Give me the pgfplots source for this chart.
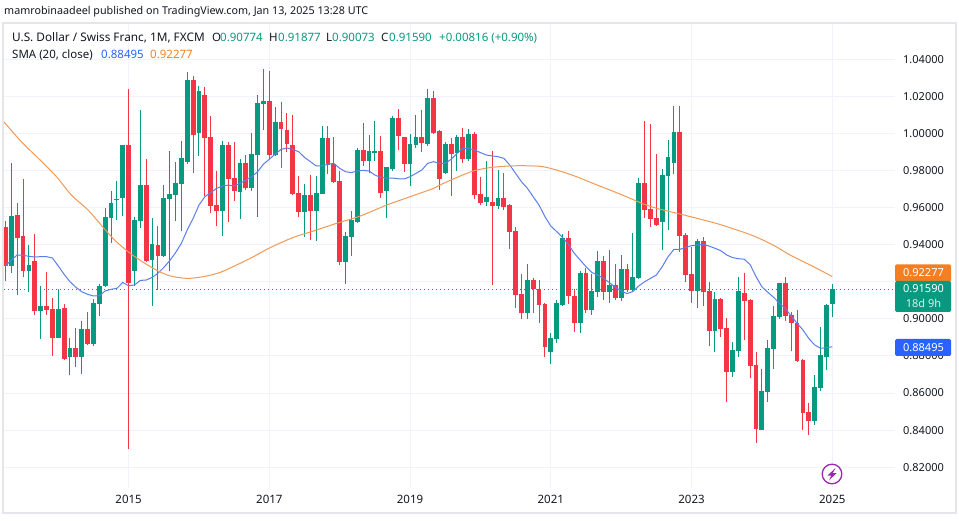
\documentclass[border=0pt]{standalone}
\usepackage{fontspec}
\setmainfont{Noto Sans}
\usepackage{pgfplots}
\usepackage{pgfplotstable}
\pgfplotsset{compat=1.18}
\definecolor{ggreen}{HTML}{089981}
\definecolor{rred}{HTML}{F23645}
\definecolor{bblue}{HTML}{2962FF}
\definecolor{oorange}{HTML}{F57F20}
\definecolor{smab}{HTML}{5B7FE8}
\definecolor{smao}{HTML}{F09A58}
\definecolor{ink}{HTML}{131722}
\definecolor{gridc}{HTML}{F0F3FA}
\definecolor{panel}{HTML}{E4E6EB}
\definecolor{bolt}{HTML}{9C27B0}
\pgfplotstableread{
i o h l c
-20 .9286 .9838 .9249 .9554
-17 .9259 .9398 .9146 .9290
-15 .9044 .9177 .8893 .9069
-12 .8898 .9159 .8896 .9053
-10 .8796 .8896 .8697 .8843
-8 .8796 .8988 .8702 .8945
-6 .8864 .9107 .8853 .9085
-5 .9080 .9186 .9015 .9177
-4 .9177 .9595 .9173 .9549
-3 .9543 .9689 .9410 .9622
-2 .9642 .9743 .9532 .9646
-1 .9653 .9937 .9554 .9937
1 .9259 .9547 .9178 .9532
2 .9527 1.0125 .9491 .9721
4 .9317 .9541 .9069 .9403
6 .9338 .9721 .9331 .9651
7 .9648 .9904 .9259 .9673
8 .9667 .9845 .9527 .9732
9 .9727 .9958 .9473 .9867
10 .9845 1.0329 .9834 1.0287
12 1.0003 1.0255 .9877 1.0228
16 .9583 .9958 .9446 .9937
19 .9685 .9861 .9540 .9840
21 .9705 1.0001 .9691 .9888
22 .9883 1.0206 .9550 1.0163
23 1.0160 1.0346 1.0018 1.0174
25 .9883 1.0142 .9877 1.0061
30 .9576 .9727 .9443 .9667
32 .9581 .9770 .9419 .9678
33 .9673 1.0039 .9671 .9975
37 .9306 .9468 .9187 .9446
38 .9443 .9581 .9338 .9532
39 .9522 .9921 .9518 .9910
41 .9851 .9991 .9788 .9904
42 .9899 1.0066 .9851 .9904
44 .9689 .9818 .9543 .9818
45 .9807 1.0093 .9797 1.0082
48 .9834 .9996 .9716 .9942
49 .9937 1.0099 .9921 .9980
51 .9942 1.0239 .9931 1.0190
54 .9786 .9953 .9780 .9942
56 .9894 .9991 .9797 .9980
58 .9862 1.0023 .9851 .9996
61 .9630 .9851 .9608 .9656
63 .9608 .9802 .9592 .9651
68 .9031 .9295 .8999 .9209
72 .8821 .8923 .8756 .8897
73 .8891 .9101 .8870 .9085
74 .9075 .9457 .9069 .9436
77 .8977 .9258 .8923 .9247
79 .9048 .9242 .9021 .9150
80 .9145 .9365 .9117 .9312
82 .9145 .9371 .9085 .9182
84 .9112 .9344 .9096 .9268
86 .9155 .9463 .9150 .9225
87 .9220 .9759 .9215 .9732
91 .9522 .9808 .9371 .9775
92 .9770 .9964 .9479 .9872
93 .9840 1.0147 .9781 1.0007
97 .9150 .9430 .9058 .9419
100 .8934 .9145 .8821 .9107
103 .8713 .8875 .8686 .8832
104 .8826 .9225 .8794 .9150
108 .8400 .8729 .8400 .8611
109 .8605 .8886 .8551 .8842
110 .8837 .9069 .8729 .9015
111 .9010 .9193 .8999 .9193
117 .8449 .8697 .8427 .8632
118 .8627 .8956 .8611 .8805
119 .8794 .9080 .8724 .9075
120 .90774 .91877 .90073 .91590
}\upcandles
\pgfplotstableread{
i o h l c
-21 .9497 .9527 .9205 .9285
-19 .9559 .9622 .9128 .9437
-18 .9446 .9752 .9227 .9259
-16 .9311 .9457 .9020 .9044
-14 .9069 .9252 .9020 .9047
-13 .9053 .9110 .8801 .8898
-11 .9058 .9080 .8779 .8783
-9 .8843 .8950 .8742 .8796
-7 .8945 .9037 .8859 .8864
0 .9937 1.0237 .8298 .9195
3 .9721 .9861 .9308 .9313
5 .9398 .9500 .9155 .9340
11 1.0287 1.0309 .9784 .9993
13 1.0206 1.0248 .9662 .9975
14 .9980 1.0093 .9572 .9608
15 .9613 .9797 .9500 .9581
17 .9937 .9953 .9522 .9754
18 .9759 .9953 .9637 .9691
20 .9840 .9883 .9694 .9705
24 1.0174 1.0336 .9861 .9883
26 1.0061 1.0169 .9813 1.0023
27 1.0018 1.0109 .9899 .9942
28 .9937 1.0099 .9669 .9673
29 .9678 .9770 .9550 .9576
31 .9667 .9775 .9425 .9581
34 .9975 1.0039 .9780 .9829
35 .9834 .9980 .9734 .9737
36 .9743 .9797 .9290 .9306
40 .9910 1.0055 .9824 .9851
43 .9904 .9985 .9651 .9678
46 1.0082 1.0131 .9910 .9985
47 .9980 .9980 .9791 .9834
50 .9980 1.0125 .9899 .9948
52 1.0190 1.0228 .9999 1.0001
53 1.0012 1.0018 .9694 .9754
55 .9942 .9975 .9662 .9888
57 .9980 1.0029 .9840 .9862
59 .9996 1.0007 .9646 .9667
60 .9673 .9764 .9613 .9624
62 .9630 .9905 .9182 .9608
64 .9651 .9786 .9587 .9603
65 .9613 .9620 .9376 .9468
66 .9473 .9495 .9058 .9128
67 .9134 .9242 .8999 .9031
69 .9209 .9220 .9031 .9159
70 .9159 .9209 .8977 .9075
71 .9080 .9085 .8794 .8848
75 .9436 .9473 .9080 .9123
76 .9123 .9161 .8929 .8977
78 .9247 .9274 .9031 .9048
81 .9312 .9339 .9101 .9145
83 .9182 .9295 .9101 .9112
85 .9268 .9295 .9145 .9155
88 .9732 1.0066 .9544 .9587
89 .9592 1.0050 .9495 .9538
90 .9544 .9888 .9500 .9506
94 1.0007 1.0147 .9360 .9446
95 .9452 .9463 .9198 .9236
96 .9242 .9389 .9085 .9150
98 .9419 .9441 .9069 .9145
99 .9150 .9198 .8853 .8934
101 .9107 .9112 .8902 .8945
102 .8950 .9004 .8551 .8713
105 .9139 .9247 .8886 .9096
106 .9101 .9107 .8681 .8746
107 .8751 .8821 .8330 .8406
112 .9193 .9225 .8988 .9015
113 .9021 .9037 .8826 .8977
114 .8977 .9048 .8767 .8773
115 .8778 .8783 .8400 .8492
116 .8497 .8546 .8373 .8449
}\downcandles
\pgfplotsset{
 wick/.style={draw=none,mark=none,forget plot,
  error bars/.cd,y dir=both,y explicit,error mark=none,
  error bar style={solid,draw=#1,line width=1pt}},
 body/.style={draw=none,mark=none,forget plot,
  error bars/.cd,y dir=both,y explicit,error mark=none,
  error bar style={solid,draw=#1,line width=4.8pt}},
}
\begin{document}
\fontsize{11.5}{14}\selectfont
\begin{tikzpicture}
\useasboundingbox (0pt,0pt) rectangle (959pt,520pt);
\fill[white] (0pt,0pt) rectangle (959pt,520pt);
\begin{axis}[
 at={(4pt,32pt)},anchor=south west,
 scale only axis,width=891pt,height=465pt,
 xmin=-21.25,xmax=130.7,ymin=0.80879,ymax=1.05946,
 axis line style={draw=none},
 major tick length=0pt,
 xtick={0,24,48,72,96,120},
 xticklabels={2015,2017,2019,2021,2023,2025},
 ytick={0.82,0.84,0.86,0.88,0.90,0.92,0.94,0.96,0.98,1.00,1.02,1.04},
 yticklabels={0.82000,0.84000,0.86000,0.88000,0.90000,{},0.94000,0.96000,0.98000,1.00000,1.02000,1.04000},
 yticklabel pos=right,
 xmajorgrids,ymajorgrids,
 grid style={draw=gridc,line width=1pt},
 xticklabel style={font=\fontsize{11.5}{14}\selectfont,text=ink,yshift=-3pt},
 yticklabel style={font=\fontsize{11}{14}\selectfont,text=ink,anchor=west,inner xsep=0pt,xshift=8pt},
]
\addplot[draw=ggreen,dash pattern=on 1pt off 3pt,line width=1pt,forget plot] coordinates {(-21.25,0.9159) (130.7,0.9159)};
\addplot+[wick=ggreen] table[x=i,y expr=(\thisrow{h}+\thisrow{l})/2,y error expr=(\thisrow{h}-\thisrow{l})/2] {\upcandles};
\addplot+[wick=rred] table[x=i,y expr=(\thisrow{h}+\thisrow{l})/2,y error expr=(\thisrow{h}-\thisrow{l})/2] {\downcandles};
\addplot+[body=ggreen] table[x=i,y expr=(\thisrow{c}+\thisrow{o})/2,y error expr=(\thisrow{c}-\thisrow{o})/2] {\upcandles};
\addplot+[body=rred] table[x=i,y expr=(\thisrow{o}+\thisrow{c})/2,y error expr=(\thisrow{o}-\thisrow{c})/2] {\downcandles};
% SMA 20
\addplot[smab,line width=1pt,mark=none] coordinates {
(-21,.9285)(-20,.9317)(-19,.9344)(-18,.9342)(-17,.9337)(-16,.9333)(-15,.9335)(-14,.9335)(-13,.9328)(-12,.9285)
(-11,.9240)(-10,.9200)(-9,.9170)(-8,.9146)(-7,.9132)(-6,.9123)(-5,.9123)(-4,.9150)(-3,.9159)(-2,.9164)
(-1,.9196)(0,.9178)(1,.9182)(2,.9207)(3,.9209)(4,.9223)(5,.9245)(6,.9277)(7,.9313)(8,.9356)
(9,.9407)(10,.9479)(11,.9541)(12,.9613)(13,.9658)(14,.9680)(15,.9703)(16,.9716)(17,.9721)(18,.9716)
(19,.9730)(20,.9748)(21,.9766)(22,.9793)(23,.9834)(24,.9860)(25,.9888)(26,.9913)(27,.9921)(28,.9913)
(29,.9901)(30,.9870)(31,.9847)(32,.9824)(33,.9824)(34,.9833)(35,.9838)(36,.9811)(37,.9793)(38,.9788)
(39,.9797)(40,.9800)(41,.9797)(42,.9775)(43,.9762)(44,.9759)(45,.9759)(46,.9755)(47,.9754)(48,.9766)
(49,.9784)(50,.9802)(51,.9838)(52,.9847)(53,.9838)(54,.9838)(55,.9860)(56,.9892)(57,.9919)(58,.9919)
(59,.9910)(60,.9896)(61,.9883)(62,.9878)(63,.9874)(64,.9865)(65,.9829)(66,.9784)(67,.9739)(68,.9704)
(69,.9658)(70,.9613)(71,.9551)(72,.9500)(73,.9470)(74,.9439)(75,.9401)(76,.9353)(77,.9317)(78,.9281)
(79,.9250)(80,.9236)(81,.9218)(82,.9195)(83,.9170)(84,.9150)(85,.9136)(86,.9147)(87,.9177)(88,.9200)
(89,.9218)(90,.9236)(91,.9281)(92,.9335)(93,.9374)(94,.9374)(95,.9385)(96,.9394)(97,.9398)(98,.9401)
(99,.9392)(100,.9380)(101,.9367)(102,.9344)(103,.9330)(104,.9324)(105,.9321)(106,.9292)(107,.9227)(108,.9173)
(109,.9143)(110,.9116)(111,.9083)(112,.9056)(113,.9015)(114,.8976)(115,.8940)(116,.8894)(117,.8859)(118,.8841)
(119,.8844)(120,.88495)};
% long SMA
\addplot[smao,line width=1pt,mark=none,smooth,tension=0.5] coordinates {
(-21.3,1.0063)(-18.3,.9955)(-15.1,.9856)(-12.3,.9766)(-9.75,.9667)(-6.9,.9586)(-4.6,.9502)(-2.4,.9425)
(-0.1,.9362)(1.9,.9317)(4.7,.9263)(7,.9232)(9.9,.9218)(12.7,.9227)(15.6,.9250)(18.4,.9290)(21.3,.9335)
(24.1,.9383)(28.1,.9439)(31.5,.9473)(35.5,.9515)(39.5,.9554)(44,.9613)(48,.9658)(52,.9703)(53.1,.9721)
(55.9,.9761)(58.8,.9797)(61.6,.9815)(65,.9824)(67.9,.9825)(70.7,.9820)(73.5,.9797)(76.4,.9766)(79.2,.9730)
(82.1,.9694)(84.9,.9658)(87.8,.9619)(90,.9596)(92.3,.9578)(94,.9565)(98,.9533)(100.8,.9509)(103.7,.9479)
(106.5,.9448)(109.9,.9398)(112.8,.9344)(116.8,.9281)(120,.92277)};
\end{axis}
\begin{scope}[x=1pt,y=-1pt,yshift=520pt]
\fill[white] (0,0) rectangle (959,22);
\draw[panel,line width=2pt] (3,23) -- (956,23) -- (956,513) -- (3,513) -- cycle;
\tikzset{t/.style={anchor=base west,inner sep=0pt,text=ink}}
\node[t,font=\fontsize{10.75}{14}\selectfont] at (4,15) {mamrobinaadeel published on TradingView.com, Jan 13, 2025 13:28 UTC};
\node[t,font=\fontsize{11.8}{14}\selectfont] at (12,41.5) {U.S. Dollar / Swiss Franc, 1M, FXCM};
\node[t] at (212,41.5) {O}; \node[t,text=ggreen] at (220,41.5) {0.90774};
\node[t] at (269,41.5) {H}; \node[t,text=ggreen] at (278,41.5) {0.91877};
\node[t] at (326,41.5) {L}; \node[t,text=ggreen] at (332,41.5) {0.90073};
\node[t] at (381,41.5) {C}; \node[t,text=ggreen] at (389,41.5) {0.91590};
\node[t,text=ggreen] at (439,41.5) {+0.00816 (+0.90\%)};
\node[t] at (12,58.5) {SMA (20, close)};
\node[t,text=bblue] at (101,58.5) {0.88495};
\node[t,text=oorange] at (150,58.5) {0.92277};
\fill[oorange,rounded corners=1.5pt] (895,264.3) rectangle (951,282);
\fill[ggreen,rounded corners=1.5pt] (895,281) rectangle (951,312);
\fill[bblue,rounded corners=1.5pt] (895,339) rectangle (951,356);
\tikzset{lab/.style={anchor=base,inner sep=0pt,text=white,font=\fontsize{11}{13}\selectfont}}
\node[lab] at (923.5,276.5) {\textbf{0.92277}};
\node[lab] at (923.5,292.5) {\textbf{0.91590}};
\node[lab,text=white!85!ggreen] at (923.5,307.5) {18d 9h};
\node[lab] at (923.5,351.5) {\textbf{0.88495}};
\draw[bolt,line width=1.3pt,fill=white] (832,474) circle (9.8);
\fill[bolt] (835.5,468) -- (827.5,475.5) -- (831.3,475.5) -- (829,480.3) -- (836.7,473) -- (832.8,473) -- cycle;
\end{scope}
\end{tikzpicture}
\end{document}
